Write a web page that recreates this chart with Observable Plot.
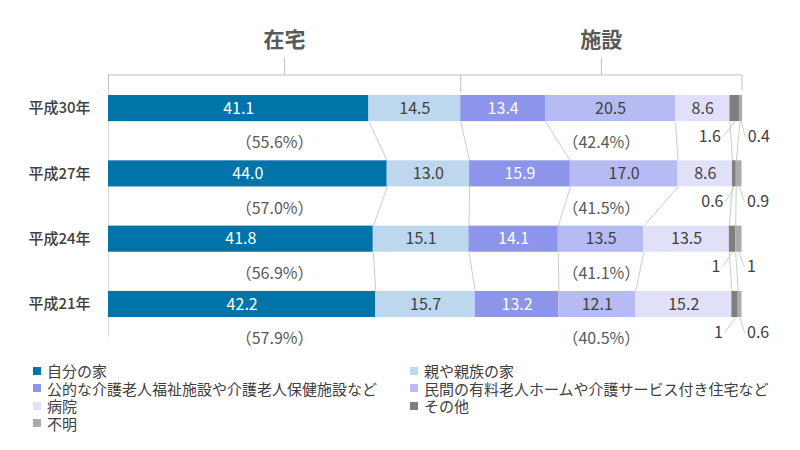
<!DOCTYPE html>
<html><head><meta charset="utf-8">
<script src="https://cdn.jsdelivr.net/npm/d3@7"></script>
<script src="https://cdn.jsdelivr.net/npm/@observablehq/plot@0.6"></script>
<style>
body{margin:0;background:#fff;font-family:"Noto Sans CJK JP",sans-serif;}
#wrap{width:800px;height:450px;position:relative;overflow:hidden;}
#chart{position:absolute;left:0;top:0;}
#legend{position:absolute;left:33px;top:362px;display:grid;grid-template-columns:377px 380px;font-size:15px;color:#404040;line-height:17.5px;}
.item{display:flex;align-items:center;white-space:nowrap;height:17.5px;}
.sw{width:8px;height:8px;margin-right:6px;display:inline-block;flex:none;}
</style></head>
<body><div id="wrap"><div id="chart"></div><div id="legend"></div></div>
<script>
const years = ["平成30年", "平成27年", "平成24年", "平成21年"];
const categories = ["自分の家", "親や親族の家", "公的な介護老人福祉施設や介護老人保健施設など", "民間の有料老人ホームや介護サービス付き住宅など", "病院", "その他", "不明"];
const colors = ["#0073a9", "#bdd7ee", "#8c95e9", "#b7bbf4", "#e0e1f9", "#7f7f7f", "#aeaaaa"];
const h30 = [41.1, 14.5, 13.4, 20.5, 8.6, 1.6, 0.4];
const h27 = [44.0, 13.0, 15.9, 17.0, 8.6, 0.6, 0.9];
const h24 = [41.8, 15.1, 14.1, 13.5, 13.5, 1, 1];
const h21 = [42.2, 15.7, 13.2, 12.1, 15.2, 1, 0.6];
const homeShare = ["55.6", "57.0", "56.9", "57.9"];
const facilityShare = ["42.4", "41.5", "41.1", "40.5"];
const groups = ["在宅", "施設"];

const series = [h30, h27, h24, h21];
const rows = [];
series.forEach((vals, i) => {
  let c = 0;
  vals.forEach((v, k) => { rows.push({year: years[i], i, k, cat: categories[k], v, x1: c, x2: c + v}); c += v; });
});
const byYear = years.map((_, i) => rows.filter(d => d.i === i));
const links = [];
for (let i = 0; i < years.length - 1; i++) {
  for (let k = 0; k < 6; k++) links.push({a: byYear[i][k].x2, b: byYear[i + 1][k].x2, i});
}
const divider = parseFloat(homeShare[0]);
const heads = [{t: groups[0], x: divider / 2}, {t: groups[1], x: (divider + 100) / 2}];
const pct = years.map((y, i) => ({i, h: homeShare[i], f: facilityShare[i]}));
const BAR = 0.2, SUB = 0.43;
const grey = "#bfbfbf", txt = "#404040";

const chart = Plot.plot({
  width: 800, height: 356,
  marginLeft: 0, marginRight: 0, marginTop: 0, marginBottom: 0,
  x: {domain: [0, 100], range: [108, 741.5], axis: null},
  y: {domain: [-1.655, 3.628], range: [0, 345], axis: null},
  color: {domain: categories, range: colors},
  style: {fontFamily: "'Noto Sans CJK JP', sans-serif", background: "white"},
  marks: [
    // header bracket
    Plot.ruleY([-0.515], {x1: 0, x2: 100, stroke: grey}),
    Plot.ruleX([0, 100], {y1: -0.515, y2: -0.277, stroke: grey}),
    Plot.ruleX([divider], {y1: -0.515, y2: -0.247, stroke: grey}),
    Plot.ruleX(heads, {x: "x", y1: -0.767, y2: -0.515, stroke: grey}),
    Plot.ruleX([0], {y1: -0.277, y2: 3.5, stroke: "#d9d9d9"}),
    Plot.text(heads, {x: "x", y: -1.04, text: "t", fontSize: 21, fontWeight: "bold", fill: "#595959"}),
    // connectors
    Plot.link(links, {x1: "a", y1: d => d.i + BAR, x2: "b", y2: d => d.i + 1 - BAR, stroke: grey, strokeWidth: 0.8}),
    // bars
    Plot.rect(rows, {x1: "x1", x2: "x2", y1: d => d.i - BAR, y2: d => d.i + BAR, fill: "cat"}),
    // inside labels
    Plot.text(rows.filter(d => d.k === 0 || d.k === 2), {x: d => (d.x1 + d.x2) / 2, y: "i", text: d => d.v.toFixed(1), fill: "white", fontSize: 16}),
    Plot.text(rows.filter(d => d.k === 1 || d.k === 3 || d.k === 4), {x: d => (d.x1 + d.x2) / 2, y: "i", text: d => d.v.toFixed(1), fill: txt, fontSize: 16}),
    // year labels
    Plot.text(years, {x: 0, y: (d, i) => i, text: d => d, textAnchor: "end", dx: -18, fontSize: 15, fontWeight: 500, fill: txt}),
    // percent labels
    Plot.text(pct, {x: divider / 2, y: d => d.i + 0.53, text: d => "（" + d.h + "%）", dx: -10, fontSize: 16, fill: "#595959"}),
    Plot.text(pct, {x: (divider + 100) / 2, y: d => d.i + 0.53, text: d => "（" + d.f + "%）", fontSize: 16, fill: "#595959"}),
    // small labels: その他
    Plot.link(rows.filter(d => d.k === 5), {x1: d => d.x1 - 1.1, y1: d => d.i + SUB, x2: d => (d.x1 + d.x2) / 2, y2: d => d.i + BAR, stroke: grey, strokeWidth: 0.8}),
    Plot.text(rows.filter(d => d.k === 5), {x: "x1", y: d => d.i + SUB, text: d => String(d.v), textAnchor: "end", dx: -9, fontSize: 16, fill: txt}),
    // small labels: 不明
    Plot.link(rows.filter(d => d.k === 6), {x1: d => d.x2 + 0.4, y1: d => d.i + SUB, x2: d => (d.x1 + d.x2) / 2, y2: d => d.i + BAR, stroke: grey, strokeWidth: 0.8}),
    Plot.text(rows.filter(d => d.k === 6), {x: "x2", y: d => d.i + SUB, text: d => String(d.v), textAnchor: "start", dx: 5, fontSize: 16, fill: txt})
  ]
});
document.getElementById("chart").appendChild(chart);

const legend = document.getElementById("legend");
categories.forEach((c, k) => {
  const it = document.createElement("div");
  it.className = "item";
  const sw = document.createElement("span");
  sw.className = "sw"; sw.style.background = colors[k];
  it.appendChild(sw);
  it.appendChild(document.createTextNode(c));
  legend.appendChild(it);
});
</script>
</body></html>
